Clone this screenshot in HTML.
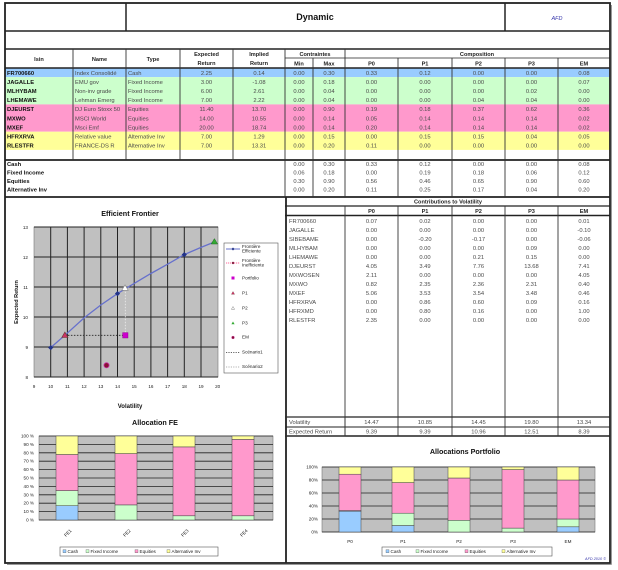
<!DOCTYPE html>
<html><head><meta charset="utf-8"><style>
html,body{margin:0;padding:0;background:#fff;width:618px;height:570px;overflow:hidden}
svg{display:block;font-family:"Liberation Sans",Arial,sans-serif}
.t{font-size:5.8px;fill:#4a4a4a}
.b{font-size:5.8px;fill:#111;font-weight:bold}
.h{font-size:5.6px;fill:#222;font-weight:bold;text-anchor:middle}
.c{text-anchor:middle}
.s{font-size:4.6px;fill:#222}
.e{text-anchor:end}
</style></head><body>
<svg width="618" height="570" viewBox="0 0 618 570" xmlns="http://www.w3.org/2000/svg">
<rect width="618" height="570" fill="#fff"/>
<rect x="5" y="68" width="605" height="9.1" fill="#99ccff"/>
<rect x="5" y="77.1" width="605" height="27.3" fill="#ccffcc"/>
<rect x="5" y="104.4" width="605" height="27.3" fill="#ff99cc"/>
<rect x="5" y="131.7" width="605" height="18.2" fill="#ffff99"/>
<g stroke="#222" fill="none">
<rect x="5" y="3" width="605" height="560" stroke-width="1.8"/>
<line x1="5" y1="31" x2="610" y2="31" stroke-width="1.5"/>
<line x1="5" y1="49" x2="610" y2="49" stroke-width="1.5"/>
<line x1="5" y1="68" x2="610" y2="68" stroke-width="1.5"/>
<line x1="126" y1="3" x2="126" y2="31" stroke-width="1.5"/>
<line x1="505" y1="3" x2="505" y2="31" stroke-width="1.5"/>
<line x1="285" y1="58" x2="610" y2="58" stroke-width="0.8"/>
<line x1="5" y1="160" x2="610" y2="160" stroke-width="1.8"/>
<line x1="5" y1="197" x2="610" y2="197" stroke-width="1.8"/>
<line x1="285" y1="206" x2="610" y2="206" stroke-width="1.2"/>
<line x1="285" y1="215.5" x2="610" y2="215.5" stroke-width="1.5"/>
<line x1="285" y1="417" x2="610" y2="417" stroke-width="1.2"/>
<line x1="285" y1="427" x2="610" y2="427" stroke-width="1"/>
<line x1="285" y1="436" x2="610" y2="436" stroke-width="1.5"/>
<line x1="286" y1="197" x2="286" y2="563" stroke-width="1.8"/>
</g>
<g stroke="#333" stroke-width="0.9">
<line x1="73" y1="49" x2="73" y2="160"/>
<line x1="126" y1="49" x2="126" y2="160"/>
<line x1="180" y1="49" x2="180" y2="160"/>
<line x1="233" y1="49" x2="233" y2="160"/>
<line x1="285" y1="49" x2="285" y2="197"/>
<line x1="313" y1="58" x2="313" y2="197"/>
<line x1="345" y1="49" x2="345" y2="197"/>
<line x1="398" y1="58" x2="398" y2="197"/>
<line x1="452" y1="58" x2="452" y2="197"/>
<line x1="505" y1="58" x2="505" y2="197"/>
<line x1="558" y1="58" x2="558" y2="197"/>
<line x1="345" y1="206" x2="345" y2="436"/>
<line x1="398" y1="206" x2="398" y2="436"/>
<line x1="452" y1="206" x2="452" y2="436"/>
<line x1="505" y1="206" x2="505" y2="436"/>
<line x1="558" y1="206" x2="558" y2="436"/>
</g>
<text x="315" y="20" font-size="9" font-weight="bold" text-anchor="middle" fill="#111">Dynamic</text>
<text x="557" y="20" font-size="5.5" font-style="italic" text-anchor="middle" fill="#3333aa">AFD</text>
<text class="h" x="39" y="61">Isin</text>
<text class="h" x="99.5" y="61">Name</text>
<text class="h" x="153" y="61">Type</text>
<text class="h" x="206.5" y="56">Expected</text><text class="h" x="206.5" y="65">Return</text>
<text class="h" x="259" y="56">Implied</text><text class="h" x="259" y="65">Return</text>
<text class="h" x="315" y="56">Contraintes</text>
<text class="h" x="299" y="65.5">Min</text><text class="h" x="329" y="65.5">Max</text>
<text class="h" x="477" y="56">Composition</text>
<text class="h" x="371.5" y="65.5">P0</text><text class="h" x="425" y="65.5">P1</text><text class="h" x="478.5" y="65.5">P2</text><text class="h" x="531.5" y="65.5">P3</text><text class="h" x="584" y="65.5">EM</text>
<defs><clipPath id="cn"><rect x="73" y="68" width="53" height="82"/></clipPath><clipPath id="ct"><rect x="126" y="68" width="54" height="82"/></clipPath></defs>
<g class="t">
<g class="b"><text x="7" y="74.8">FR700660</text><text x="7" y="83.9">JAGALLE</text><text x="7" y="93">MLHYBAM</text><text x="7" y="102.1">LHEMAWE</text><text x="7" y="111.2">DJEURST</text><text x="7" y="120.3">MXWO</text><text x="7" y="129.4">MXEF</text><text x="7" y="138.5">HFRXRVA</text><text x="7" y="147.6">RLESTFR</text></g>
<g clip-path="url(#cn)"><text x="75" y="74.8">Index Consolidé</text><text x="75" y="83.9">EMU gov</text><text x="75" y="93">Non-inv grade</text><text x="75" y="102.1">Lehman Emerg</text><text x="75" y="111.2">DJ Euro Stoxx 50</text><text x="75" y="120.3">MSCI World</text><text x="75" y="129.4">Msci Emf</text><text x="75" y="138.5">Relative value</text><text x="75" y="147.6">FRANCE-DS R</text></g>
<g clip-path="url(#ct)"><text x="128" y="74.8">Cash</text><text x="128" y="83.9">Fixed Income</text><text x="128" y="93">Fixed Income</text><text x="128" y="102.1">Fixed Income</text><text x="128" y="111.2">Equities</text><text x="128" y="120.3">Equities</text><text x="128" y="129.4">Equities</text><text x="128" y="138.5">Alternative Inv</text><text x="128" y="147.6">Alternative Inv</text></g>
<g class="c">
<text x="206.5" y="74.8">2.25</text><text x="206.5" y="83.9">3.00</text><text x="206.5" y="93">6.00</text><text x="206.5" y="102.1">7.00</text><text x="206.5" y="111.2">11.40</text><text x="206.5" y="120.3">14.00</text><text x="206.5" y="129.4">20.00</text><text x="206.5" y="138.5">7.00</text><text x="206.5" y="147.6">7.00</text>
<text x="259" y="74.8">0.14</text><text x="259" y="83.9">-1.08</text><text x="259" y="93">2.61</text><text x="259" y="102.1">2.22</text><text x="259" y="111.2">13.70</text><text x="259" y="120.3">10.55</text><text x="259" y="129.4">18.74</text><text x="259" y="138.5">1.29</text><text x="259" y="147.6">13.31</text>
<text x="299" y="74.8">0.00</text><text x="299" y="83.9">0.00</text><text x="299" y="93">0.00</text><text x="299" y="102.1">0.00</text><text x="299" y="111.2">0.00</text><text x="299" y="120.3">0.00</text><text x="299" y="129.4">0.00</text><text x="299" y="138.5">0.00</text><text x="299" y="147.6">0.00</text>
<text x="329" y="74.8">0.30</text><text x="329" y="83.9">0.18</text><text x="329" y="93">0.04</text><text x="329" y="102.1">0.04</text><text x="329" y="111.2">0.90</text><text x="329" y="120.3">0.14</text><text x="329" y="129.4">0.14</text><text x="329" y="138.5">0.15</text><text x="329" y="147.6">0.20</text>
<text x="371.5" y="74.8">0.33</text><text x="371.5" y="83.9">0.00</text><text x="371.5" y="93">0.00</text><text x="371.5" y="102.1">0.00</text><text x="371.5" y="111.2">0.19</text><text x="371.5" y="120.3">0.05</text><text x="371.5" y="129.4">0.20</text><text x="371.5" y="138.5">0.00</text><text x="371.5" y="147.6">0.11</text>
<text x="425" y="74.8">0.12</text><text x="425" y="83.9">0.00</text><text x="425" y="93">0.00</text><text x="425" y="102.1">0.00</text><text x="425" y="111.2">0.18</text><text x="425" y="120.3">0.14</text><text x="425" y="129.4">0.14</text><text x="425" y="138.5">0.15</text><text x="425" y="147.6">0.00</text>
<text x="478.5" y="74.8">0.00</text><text x="478.5" y="83.9">0.00</text><text x="478.5" y="93">0.00</text><text x="478.5" y="102.1">0.04</text><text x="478.5" y="111.2">0.37</text><text x="478.5" y="120.3">0.14</text><text x="478.5" y="129.4">0.14</text><text x="478.5" y="138.5">0.15</text><text x="478.5" y="147.6">0.00</text>
<text x="531.5" y="74.8">0.00</text><text x="531.5" y="83.9">0.00</text><text x="531.5" y="93">0.02</text><text x="531.5" y="102.1">0.04</text><text x="531.5" y="111.2">0.62</text><text x="531.5" y="120.3">0.14</text><text x="531.5" y="129.4">0.14</text><text x="531.5" y="138.5">0.04</text><text x="531.5" y="147.6">0.00</text>
<text x="584" y="74.8">0.08</text><text x="584" y="83.9">0.07</text><text x="584" y="93">0.00</text><text x="584" y="102.1">0.00</text><text x="584" y="111.2">0.36</text><text x="584" y="120.3">0.02</text><text x="584" y="129.4">0.02</text><text x="584" y="138.5">0.05</text><text x="584" y="147.6">0.00</text>
</g>
<g class="b"><text x="7" y="166">Cash</text><text x="7" y="174.5">Fixed Income</text><text x="7" y="183">Equities</text><text x="7" y="191.5">Alternative Inv</text></g>
<g class="c">
<text x="299" y="166">0.00</text><text x="299" y="174.5">0.06</text><text x="299" y="183">0.30</text><text x="299" y="191.5">0.00</text>
<text x="329" y="166">0.30</text><text x="329" y="174.5">0.18</text><text x="329" y="183">0.90</text><text x="329" y="191.5">0.20</text>
<text x="371.5" y="166">0.33</text><text x="371.5" y="174.5">0.00</text><text x="371.5" y="183">0.56</text><text x="371.5" y="191.5">0.11</text>
<text x="425" y="166">0.12</text><text x="425" y="174.5">0.19</text><text x="425" y="183">0.46</text><text x="425" y="191.5">0.25</text>
<text x="478.5" y="166">0.00</text><text x="478.5" y="174.5">0.18</text><text x="478.5" y="183">0.65</text><text x="478.5" y="191.5">0.17</text>
<text x="531.5" y="166">0.00</text><text x="531.5" y="174.5">0.06</text><text x="531.5" y="183">0.90</text><text x="531.5" y="191.5">0.04</text>
<text x="584" y="166">0.08</text><text x="584" y="174.5">0.12</text><text x="584" y="183">0.60</text><text x="584" y="191.5">0.20</text>
</g>
<text class="h" x="448" y="203.5">Contributions to Volatility</text>
<text class="h" x="371.5" y="213">P0</text><text class="h" x="425" y="213">P1</text><text class="h" x="478.5" y="213">P2</text><text class="h" x="531.5" y="213">P3</text><text class="h" x="584" y="213">EM</text>
<g>
<text x="289" y="223">FR700660</text><text x="289" y="232">JAGALLE</text><text x="289" y="241">SIBEBAME</text><text x="289" y="250">MLHYBAM</text><text x="289" y="259">LHEMAWE</text><text x="289" y="268">DJEURST</text><text x="289" y="277">MXWOSEN</text><text x="289" y="286">MXWO</text><text x="289" y="295">MXEF</text><text x="289" y="304">HFRXRVA</text><text x="289" y="313">HFRXMD</text><text x="289" y="322">RLESTFR</text>
</g>
<g class="c">
<text x="371.5" y="223">0.07</text><text x="371.5" y="232">0.00</text><text x="371.5" y="241">0.00</text><text x="371.5" y="250">0.00</text><text x="371.5" y="259">0.00</text><text x="371.5" y="268">4.05</text><text x="371.5" y="277">2.11</text><text x="371.5" y="286">0.82</text><text x="371.5" y="295">5.06</text><text x="371.5" y="304">0.00</text><text x="371.5" y="313">0.00</text><text x="371.5" y="322">2.35</text>
<text x="425" y="223">0.02</text><text x="425" y="232">0.00</text><text x="425" y="241">-0.20</text><text x="425" y="250">0.00</text><text x="425" y="259">0.00</text><text x="425" y="268">3.49</text><text x="425" y="277">0.00</text><text x="425" y="286">2.35</text><text x="425" y="295">3.53</text><text x="425" y="304">0.86</text><text x="425" y="313">0.80</text><text x="425" y="322">0.00</text>
<text x="478.5" y="223">0.00</text><text x="478.5" y="232">0.00</text><text x="478.5" y="241">-0.17</text><text x="478.5" y="250">0.00</text><text x="478.5" y="259">0.21</text><text x="478.5" y="268">7.76</text><text x="478.5" y="277">0.00</text><text x="478.5" y="286">2.36</text><text x="478.5" y="295">3.54</text><text x="478.5" y="304">0.60</text><text x="478.5" y="313">0.16</text><text x="478.5" y="322">0.00</text>
<text x="531.5" y="223">0.00</text><text x="531.5" y="232">0.00</text><text x="531.5" y="241">0.00</text><text x="531.5" y="250">0.09</text><text x="531.5" y="259">0.15</text><text x="531.5" y="268">13.68</text><text x="531.5" y="277">0.00</text><text x="531.5" y="286">2.31</text><text x="531.5" y="295">3.48</text><text x="531.5" y="304">0.09</text><text x="531.5" y="313">0.00</text><text x="531.5" y="322">0.00</text>
<text x="584" y="223">0.01</text><text x="584" y="232">-0.10</text><text x="584" y="241">-0.06</text><text x="584" y="250">0.00</text><text x="584" y="259">0.00</text><text x="584" y="268">7.41</text><text x="584" y="277">4.05</text><text x="584" y="286">0.40</text><text x="584" y="295">0.46</text><text x="584" y="304">0.16</text><text x="584" y="313">1.00</text><text x="584" y="322">0.00</text>
</g>
<text x="289" y="424">Volatility</text><text x="289" y="433.5">Expected Return</text>
<g class="c">
<text x="371.5" y="424">14.47</text><text x="425" y="424">10.85</text><text x="478.5" y="424">14.45</text><text x="531.5" y="424">19.80</text><text x="584" y="424">13.34</text>
<text x="371.5" y="433.5">9.39</text><text x="425" y="433.5">9.39</text><text x="478.5" y="433.5">10.96</text><text x="531.5" y="433.5">12.51</text><text x="584" y="433.5">8.39</text>
</g>
</g>
<rect x="285.5" y="417" width="59.5" height="19" fill="none" stroke="#333" stroke-width="0.8"/>

<text x="130" y="216" font-size="7.2" font-weight="bold" text-anchor="middle" fill="#111">Efficient Frontier</text>
<rect x="34" y="227" width="184" height="150" fill="#c0c0c0" stroke="#777" stroke-width="0.6"/>
<g stroke="#222" stroke-width="1">
<line x1="50.7" y1="227" x2="50.7" y2="377"/><line x1="67.4" y1="227" x2="67.4" y2="377"/><line x1="84.1" y1="227" x2="84.1" y2="377"/><line x1="100.8" y1="227" x2="100.8" y2="377"/><line x1="117.5" y1="227" x2="117.5" y2="377"/><line x1="134.2" y1="227" x2="134.2" y2="377"/><line x1="150.9" y1="227" x2="150.9" y2="377"/><line x1="167.6" y1="227" x2="167.6" y2="377"/><line x1="184.3" y1="227" x2="184.3" y2="377"/><line x1="201" y1="227" x2="201" y2="377"/>
<line x1="34" y1="227" x2="218" y2="227"/><line x1="34" y1="257" x2="218" y2="257"/><line x1="34" y1="287" x2="218" y2="287"/><line x1="34" y1="317" x2="218" y2="317"/><line x1="34" y1="347" x2="218" y2="347"/><line x1="34" y1="377" x2="218" y2="377"/>
</g>
<g class="s" font-size="5.2">
<text x="28" y="229" class="e">13</text><text x="28" y="259" class="e">12</text><text x="28" y="289" class="e">11</text><text x="28" y="319" class="e">10</text><text x="28" y="349" class="e">9</text><text x="28" y="379" class="e">8</text>
<g class="c"><text x="34" y="388">9</text><text x="50.7" y="388">10</text><text x="67.4" y="388">11</text><text x="84.1" y="388">12</text><text x="100.8" y="388">13</text><text x="117.5" y="388">14</text><text x="134.2" y="388">15</text><text x="150.9" y="388">16</text><text x="167.6" y="388">17</text><text x="184.3" y="388">18</text><text x="201" y="388">19</text><text x="217.7" y="388">20</text></g>
</g>
<text x="130" y="408" font-size="6" font-weight="bold" text-anchor="middle" fill="#111">Volatility</text>
<text transform="translate(18,302) rotate(-90)" font-size="5.5" font-weight="bold" text-anchor="middle" fill="#111">Expected Return</text>
<polyline points="50.7,347.6 64.9,335.3 84.1,317.9 100.8,305 117.5,293.6 134.2,283.4 150.9,273.5 167.6,264.2 184.3,254.6 201,247.4 214.4,242" fill="none" stroke="#6670cc" stroke-width="1.3"/>
<line x1="64.9" y1="335.3" x2="125.3" y2="335.3" stroke="#222" stroke-width="0.8" stroke-dasharray="1.5,1.5"/>
<line x1="125.3" y1="335.3" x2="125.3" y2="288" stroke="#eee" stroke-width="0.8" stroke-dasharray="1.5,1.5"/>
<g fill="#223388">
<path d="M50.7,345 L53.3,347.6 L50.7,350.2 L48.1,347.6Z"/><path d="M117.5,291 L120.1,293.6 L117.5,296.2 L114.9,293.6Z"/><path d="M184.3,252 L186.9,254.6 L184.3,257.2 L181.7,254.6Z"/>
</g>
<path d="M64.9,332 L68,337.5 L61.8,337.5Z" fill="#cc3366" stroke="#663333" stroke-width="0.6"/>
<path d="M125,284.8 L128.2,290.3 L121.8,290.3Z" fill="#fff" stroke="#888" stroke-width="0.6"/>
<path d="M214.4,238.6 L217.6,244 L211.2,244Z" fill="#33aa33" stroke="#226622" stroke-width="0.5"/>
<rect x="122.6" y="332.6" width="5.4" height="5.4" fill="#cc00cc" stroke="#880088" stroke-width="0.4"/>
<circle cx="106.5" cy="365.3" r="2.6" fill="#881133" stroke="#cc33aa" stroke-width="0.8"/>
<rect x="224" y="243" width="54" height="130" fill="#fff" stroke="#555" stroke-width="0.6"/>
<g class="s" font-size="3.6">
<line x1="226" y1="249" x2="240" y2="249" stroke="#6670cc" stroke-width="1"/><path d="M233,247.5 L234.5,249 L233,250.5 L231.5,249Z" fill="#223388"/>
<text x="242" y="248">Frontière</text><text x="242" y="252.5">Efficiente</text>
<line x1="226" y1="263" x2="240" y2="263" stroke="#ff6699" stroke-width="1" stroke-dasharray="1.2,0.8"/><circle cx="233" cy="263" r="1.2" fill="#882244"/>
<text x="242" y="262">Frontière</text><text x="242" y="266.5">Inefficiente</text>
<rect x="231.5" y="276.5" width="3" height="3" fill="#cc00cc"/><text x="242" y="279.5">Portfolio</text>
<path d="M233,291.5 L234.6,294.3 L231.4,294.3Z" fill="#cc3366" stroke="#663333" stroke-width="0.3"/><text x="242" y="294.5">P1</text>
<path d="M233,306.5 L234.6,309.3 L231.4,309.3Z" fill="#fff" stroke="#666" stroke-width="0.4"/><text x="242" y="309.5">P2</text>
<path d="M233,321.5 L234.6,324.3 L231.4,324.3Z" fill="#33aa33"/><text x="242" y="324.5">P3</text>
<circle cx="233" cy="337.5" r="1.4" fill="#881133" stroke="#cc33aa" stroke-width="0.4"/><text x="242" y="338.5">EM</text>
<line x1="226" y1="352.5" x2="240" y2="352.5" stroke="#333" stroke-width="0.7" stroke-dasharray="1.2,1.2"/><text x="242" y="353.5">Scénario1</text>
<line x1="226" y1="367" x2="240" y2="367" stroke="#999" stroke-width="0.7" stroke-dasharray="1.2,1.2"/><text x="242" y="368">Scénario2</text>
</g>

<text x="155" y="425" font-size="7.2" font-weight="bold" text-anchor="middle" fill="#111">Allocation FE</text>
<rect x="39" y="436" width="234" height="84" fill="#c0c0c0" stroke="#777" stroke-width="0.6"/>
<g stroke="#222" stroke-width="0.8">
<line x1="39" y1="436" x2="273" y2="436"/><line x1="39" y1="444.4" x2="273" y2="444.4"/><line x1="39" y1="452.8" x2="273" y2="452.8"/><line x1="39" y1="461.2" x2="273" y2="461.2"/><line x1="39" y1="469.6" x2="273" y2="469.6"/><line x1="39" y1="478" x2="273" y2="478"/><line x1="39" y1="486.4" x2="273" y2="486.4"/><line x1="39" y1="494.8" x2="273" y2="494.8"/><line x1="39" y1="503.2" x2="273" y2="503.2"/><line x1="39" y1="511.6" x2="273" y2="511.6"/><line x1="39" y1="520" x2="273" y2="520"/>
</g>
<g class="s" font-size="4.2">
<text x="34" y="437.5" class="e">100 %</text><text x="34" y="445.9" class="e">90 %</text><text x="34" y="454.3" class="e">80 %</text><text x="34" y="462.7" class="e">70 %</text><text x="34" y="471.1" class="e">60 %</text><text x="34" y="479.5" class="e">50 %</text><text x="34" y="487.9" class="e">40 %</text><text x="34" y="496.3" class="e">30 %</text><text x="34" y="504.7" class="e">20 %</text><text x="34" y="513.1" class="e">10 %</text><text x="34" y="521.5" class="e">0 %</text>
</g>
<g stroke="#444" stroke-width="0.5">
<rect x="56" y="505.7" width="22" height="14.3" fill="#99ccff"/>
<rect x="56" y="490.6" width="22" height="15.1" fill="#ccffcc"/>
<rect x="56" y="454.5" width="22" height="36.1" fill="#ff99cc"/>
<rect x="56" y="436" width="22" height="18.5" fill="#ffff99"/>
<rect x="115" y="504.9" width="22" height="15.1" fill="#ccffcc"/>
<rect x="115" y="453.6" width="22" height="51.3" fill="#ff99cc"/>
<rect x="115" y="436" width="22" height="17.6" fill="#ffff99"/>
<rect x="173" y="515.8" width="22" height="4.2" fill="#ccffcc"/>
<rect x="173" y="446.9" width="22" height="68.9" fill="#ff99cc"/>
<rect x="173" y="436" width="22" height="10.9" fill="#ffff99"/>
<rect x="232" y="515.8" width="22" height="4.2" fill="#ccffcc"/>
<rect x="232" y="439.4" width="22" height="76.4" fill="#ff99cc"/>
<rect x="232" y="436" width="22" height="3.4" fill="#ffff99"/>
</g>
<g class="s" font-size="4.5">
<text transform="translate(69,534) rotate(-45)" class="c">FE1</text>
<text transform="translate(128,534) rotate(-45)" class="c">FE2</text>
<text transform="translate(186,534) rotate(-45)" class="c">FE3</text>
<text transform="translate(245,534) rotate(-45)" class="c">FE4</text>
</g>
<rect x="60" y="547" width="158" height="9" fill="#fff" stroke="#555" stroke-width="0.6"/>
<g class="s" font-size="4.3">
<rect x="63" y="549.8" width="3" height="3" fill="#99ccff" stroke="#444" stroke-width="0.3"/><text x="67.5" y="553">Cash</text>
<rect x="86" y="549.8" width="3" height="3" fill="#ccffcc" stroke="#444" stroke-width="0.3"/><text x="90.5" y="553">Fixed Income</text>
<rect x="135" y="549.8" width="3" height="3" fill="#ff99cc" stroke="#444" stroke-width="0.3"/><text x="139.5" y="553">Equities</text>
<rect x="167" y="549.8" width="3" height="3" fill="#ffff99" stroke="#444" stroke-width="0.3"/><text x="171.5" y="553">Alternative Inv</text>
</g>

<text x="465" y="454" font-size="7.2" font-weight="bold" text-anchor="middle" fill="#111">Allocations Portfolio</text>
<rect x="322" y="467" width="273" height="65" fill="#c0c0c0" stroke="#777" stroke-width="0.6"/>
<g stroke="#222" stroke-width="0.8">
<line x1="322" y1="467" x2="595" y2="467"/><line x1="322" y1="480" x2="595" y2="480"/><line x1="322" y1="493" x2="595" y2="493"/><line x1="322" y1="506" x2="595" y2="506"/><line x1="322" y1="519" x2="595" y2="519"/><line x1="322" y1="532" x2="595" y2="532"/>
</g>
<g class="s" font-size="4.3">
<text x="318" y="468.5" class="e">100%</text><text x="318" y="481.5" class="e">80%</text><text x="318" y="494.5" class="e">60%</text><text x="318" y="507.5" class="e">40%</text><text x="318" y="520.5" class="e">20%</text><text x="318" y="533.5" class="e">0%</text>
</g>
<g stroke="#444" stroke-width="0.5">
<rect x="339" y="511.2" width="22" height="20.8" fill="#99ccff"/>
<rect x="339" y="510.6" width="22" height="0.6" fill="#ccffcc"/>
<rect x="339" y="474.2" width="22" height="36.4" fill="#ff99cc"/>
<rect x="339" y="467" width="22" height="7.2" fill="#ffff99"/>
<rect x="392" y="525.5" width="22" height="6.5" fill="#99ccff"/>
<rect x="392" y="513.2" width="22" height="12.3" fill="#ccffcc"/>
<rect x="392" y="482.6" width="22" height="30.6" fill="#ff99cc"/>
<rect x="392" y="467" width="22" height="15.6" fill="#ffff99"/>
<rect x="448" y="520.3" width="22" height="11.7" fill="#ccffcc"/>
<rect x="448" y="478" width="22" height="42.3" fill="#ff99cc"/>
<rect x="448" y="467" width="22" height="11" fill="#ffff99"/>
<rect x="502" y="528.1" width="22" height="3.9" fill="#ccffcc"/>
<rect x="502" y="469.6" width="22" height="58.5" fill="#ff99cc"/>
<rect x="502" y="467" width="22" height="2.6" fill="#ffff99"/>
<rect x="557" y="526.8" width="22" height="5.2" fill="#99ccff"/>
<rect x="557" y="519" width="22" height="7.8" fill="#ccffcc"/>
<rect x="557" y="480" width="22" height="39" fill="#ff99cc"/>
<rect x="557" y="467" width="22" height="13" fill="#ffff99"/>
</g>
<g class="s c" font-size="4.5">
<text x="350" y="543">P0</text><text x="403" y="543">P1</text><text x="459" y="543">P2</text><text x="513" y="543">P3</text><text x="568" y="543">EM</text>
</g>
<rect x="382" y="547" width="170" height="9" fill="#fff" stroke="#555" stroke-width="0.6"/>
<g class="s" font-size="4.3">
<rect x="386" y="549.8" width="3" height="3" fill="#99ccff" stroke="#444" stroke-width="0.3"/><text x="390.5" y="553">Cash</text>
<rect x="416" y="549.8" width="3" height="3" fill="#ccffcc" stroke="#444" stroke-width="0.3"/><text x="420.5" y="553">Fixed Income</text>
<rect x="465" y="549.8" width="3" height="3" fill="#ff99cc" stroke="#444" stroke-width="0.3"/><text x="469.5" y="553">Equities</text>
<rect x="502" y="549.8" width="3" height="3" fill="#ffff99" stroke="#444" stroke-width="0.3"/><text x="506.5" y="553">Alternative Inv</text>
</g>
<text x="606" y="560" font-size="3.8" font-style="italic" text-anchor="end" fill="#3333aa">AFD 2010 ©</text>
<line x1="7" y1="564.5" x2="611.5" y2="564.5" stroke="#999" stroke-width="1"/>
<line x1="611.5" y1="5" x2="611.5" y2="564.5" stroke="#999" stroke-width="1"/>
</svg>
</body></html>
